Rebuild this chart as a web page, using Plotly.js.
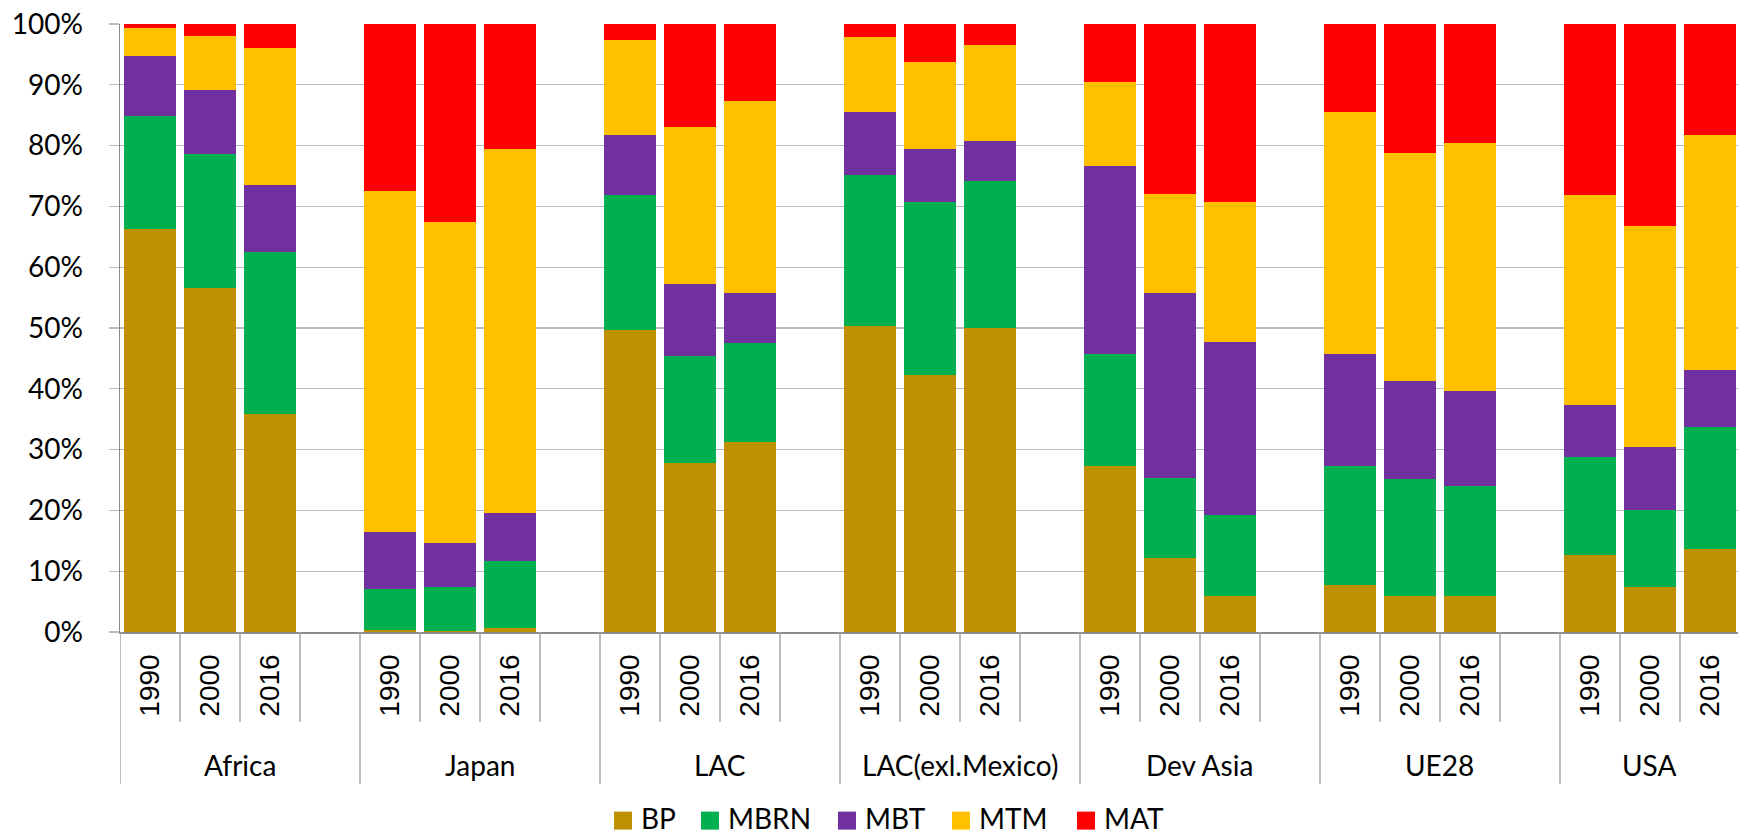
<!DOCTYPE html>
<html>
<head>
<meta charset="utf-8">
<script src="https://cdn.plot.ly/plotly-3.0.1.min.js"></script>
<style>
  html, body { margin: 0; padding: 0; background: #ffffff; }
  #chart { width: 1738px; height: 837px; }
</style>
</head>
<body>
<div id="chart"></div>
<script>
// Regions and years shown on the category axis
const groups = ['Africa', 'Japan', 'LAC', 'LAC(exl.Mexico)', 'Dev Asia', 'UE28', 'USA'];
const years = ['1990', '2000', '2016'];

// Share of each component (%), ordered region by region, 1990 / 2000 / 2016
const BP   = [66.3, 56.6, 35.8,  0.4,  0.2,  0.6, 49.7, 27.8, 31.3, 50.3, 42.3, 50.0, 27.3, 12.2,  6.0,  7.7,  6.0,  6.0, 12.7,  7.4, 13.6];
const MBRN = [18.5, 22.0, 26.7,  6.7,  7.2, 11.0, 22.2, 17.6, 16.3, 24.9, 28.4, 24.2, 18.5, 13.1, 13.2, 19.6, 19.2, 18.0, 16.1, 12.7, 20.2];
const MBT  = [ 9.9, 10.5, 11.1,  9.4,  7.3,  7.9,  9.8, 11.9,  8.2, 10.4,  8.8,  6.5, 30.8, 30.4, 28.5, 18.5, 16.1, 15.7,  8.6, 10.4,  9.3];
const MTM  = [ 4.6,  9.0, 22.5, 56.0, 52.8, 59.9, 15.7, 25.8, 31.5, 12.3, 14.3, 15.8, 13.8, 16.4, 23.0, 39.7, 37.5, 40.7, 34.4, 36.3, 38.7];
const MAT  = [ 0.7,  1.9,  3.9, 27.5, 32.5, 20.6,  2.6, 16.9, 12.7,  2.1,  6.2,  3.5,  9.6, 27.9, 29.3, 14.5, 21.2, 19.6, 28.2, 33.2, 18.2];

const seriesNames = ['BP', 'MBRN', 'MBT', 'MTM', 'MAT'];
const seriesValues = [BP, MBRN, MBT, MTM, MAT];
const seriesColors = ['#BF9000', '#00B050', '#7030A0', '#FFC000', '#FF0000'];

// Each region takes four slots on the axis: three years and an empty spacer
const slotsPerGroup = years.length + 1;
const xPos = [];
groups.forEach((g, gi) => years.forEach((y, yi) => xPos.push(gi * slotsPerGroup + yi)));

const xMin = -0.5;
const xMax = 26.467;

const traces = seriesNames.map((name, i) => ({
  type: 'bar',
  name: name,
  x: xPos,
  y: seriesValues[i],
  width: 0.855,
  showlegend: false,
  marker: { color: seriesColors[i], line: { width: 0 } },
  hovertemplate: name + ': %{y:.1f}%<extra></extra>'
}));

// Plot area in page pixels
const W = 1738, H = 837;
const plotTop = 24, plotBottom = 632.3, plotH = plotBottom - plotTop;
const plotLeft = 120, plotRight = 1738;
const pyFromPx = px => -(px - plotBottom) / plotH;
const pxToPaperX = px => (px - plotLeft) / (plotRight - plotLeft);

const shapes = [];
const annotations = [];
const dividerColor = '#a6a6a6';
const labelFont = 'Lato, sans-serif';

// Separators below the axis: short between slots, long between regions
for (let k = 0; k <= groups.length * slotsPerGroup; k++) {
  const xb = k - 0.5;
  if (xb > xMax) break;
  const isGroupEdge = k % slotsPerGroup === 0;
  shapes.push({
    type: 'line', xref: 'x', yref: 'paper',
    x0: xb, x1: xb, y0: 0, y1: pyFromPx(isGroupEdge ? 784 : 722),
    line: { color: dividerColor, width: 1.5 }
  });
}

// Year labels, rotated, one per bar
groups.forEach((g, gi) => years.forEach((yr, yi) => {
  annotations.push({
    xref: 'x', yref: 'paper', x: gi * slotsPerGroup + yi, y: pyFromPx(686),
    text: yr, textangle: -90, showarrow: false,
    xanchor: 'center', yanchor: 'middle',
    font: { family: 'Liberation Sans, Arial, sans-serif', size: 28, color: '#000000' }
  });
}));

// Region labels, centred on the visible part of each region
groups.forEach((g, gi) => {
  const start = gi * slotsPerGroup - 0.5;
  const end = Math.min(start + slotsPerGroup, xMax);
  annotations.push({
    xref: 'x', yref: 'paper', x: (start + end) / 2, y: pyFromPx(765),
    text: g, showarrow: false, xanchor: 'center', yanchor: 'middle',
    font: { family: labelFont, size: 28, color: '#000000' }
  });
});

// Legend row below the chart: square swatch followed by the series name
const legendItemLeft = [614, 701, 838, 952, 1077];
const legendSwatch = 18, legendMidY = 821;
seriesNames.forEach((name, i) => {
  const x0 = legendItemLeft[i];
  shapes.push({
    type: 'rect', xref: 'paper', yref: 'paper',
    x0: pxToPaperX(x0), x1: pxToPaperX(x0 + legendSwatch),
    y0: pyFromPx(legendMidY - legendSwatch / 2), y1: pyFromPx(legendMidY + legendSwatch / 2),
    fillcolor: seriesColors[i], line: { width: 0 }
  });
  annotations.push({
    xref: 'paper', yref: 'paper', x: pxToPaperX(x0 + legendSwatch + 8), y: pyFromPx(H - 1),
    text: name, showarrow: false, xanchor: 'left', yanchor: 'bottom', borderpad: 0,
    font: { family: labelFont, size: 28, color: '#000000' }
  });
});

const layout = {
  width: W, height: H,
  margin: { l: plotLeft, r: W - plotRight, t: plotTop, b: H - plotBottom, pad: 0, autoexpand: false },
  paper_bgcolor: '#ffffff', plot_bgcolor: '#ffffff',
  barmode: 'stack',
  showlegend: false,
  xaxis: {
    range: [xMin, xMax], showticklabels: false, showgrid: false, zeroline: false,
    showline: true, linecolor: '#8c8c8c', linewidth: 2, ticks: '', fixedrange: true
  },
  yaxis: {
    range: [0, 100], dtick: 10, tick0: 0, ticksuffix: '%',
    showgrid: true, gridcolor: '#bdbdbd', gridwidth: 1.2,
    zeroline: false, showline: true, linecolor: '#8c8c8c', linewidth: 1.5,
    ticks: 'outside', ticklen: 10, tickcolor: '#bdbdbd', tickwidth: 1.2,
    ticklabelstandoff: 20,
    tickfont: { family: labelFont, size: 28, color: '#000000' },
    fixedrange: true
  },
  shapes: shapes,
  annotations: annotations
};

Plotly.newPlot('chart', traces, layout, { displayModeBar: false, staticPlot: true });
</script>
</body>
</html>
